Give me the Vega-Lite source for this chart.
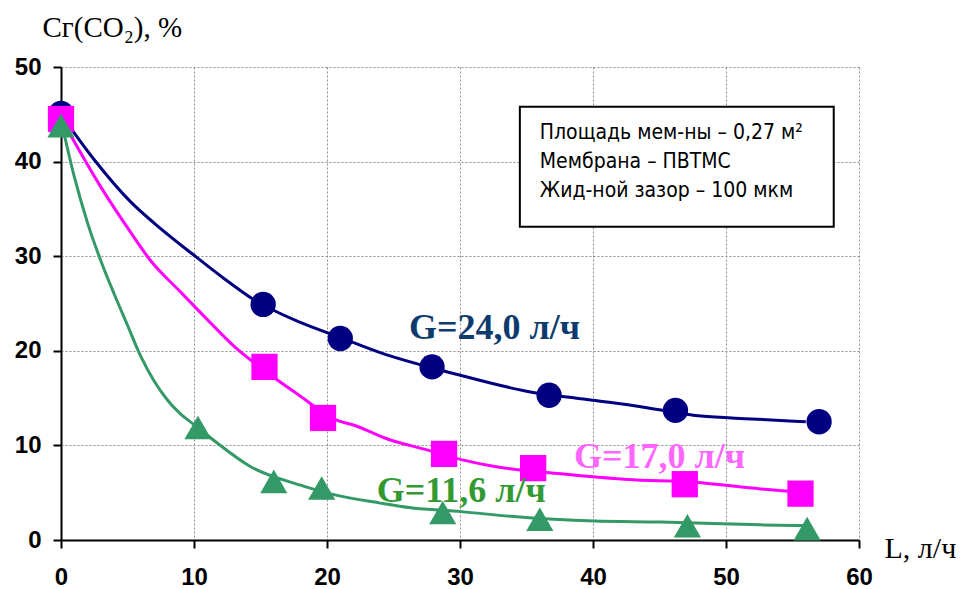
{
  "$schema": "https://vega.github.io/schema/vega-lite/v6.json",
  "width": 798,
  "height": 473,
  "autosize": {"type": "none"},
  "padding": {"left": 61, "top": 67, "right": 102, "bottom": 49},
  "background": "white",
  "config": {
    "view": {"stroke": null},
    "axis": {
      "grid": true, "labelFlush": false,
      "domainColor": "black", "domainWidth": 2,
      "tickColor": "black", "tickWidth": 2, "tickSize": 8,
      "gridColor": "#8c8c8c", "gridDash": [2, 2], "gridWidth": 1,
      "labelFont": "Liberation Sans", "labelFontWeight": "bold", "labelFontSize": 24, "labelColor": "black",
      "titleFont": "Liberation Serif", "titleFontWeight": "normal", "titleFontSize": 28, "titleColor": "black"
    }
  },
  "datasets": {
    "points": [
      {"series": "G=24,0", "L": 0, "C": 45.1},
      {"series": "G=24,0", "L": 15.2, "C": 24.9},
      {"series": "G=24,0", "L": 21.0, "C": 21.3},
      {"series": "G=24,0", "L": 27.9, "C": 18.3},
      {"series": "G=24,0", "L": 36.7, "C": 15.3},
      {"series": "G=24,0", "L": 46.2, "C": 13.7},
      {"series": "G=24,0", "L": 57.0, "C": 12.5},
      {"series": "G=17,0", "L": 0, "C": 44.5},
      {"series": "G=17,0", "L": 15.3, "C": 18.3},
      {"series": "G=17,0", "L": 19.7, "C": 12.9},
      {"series": "G=17,0", "L": 28.8, "C": 9.1},
      {"series": "G=17,0", "L": 35.5, "C": 7.6},
      {"series": "G=17,0", "L": 46.9, "C": 5.9},
      {"series": "G=17,0", "L": 55.6, "C": 4.9},
      {"series": "G=11,6", "L": 0, "C": 43.8},
      {"series": "G=11,6", "L": 10.3, "C": 11.9},
      {"series": "G=11,6", "L": 16.0, "C": 6.2},
      {"series": "G=11,6", "L": 19.6, "C": 5.5},
      {"series": "G=11,6", "L": 28.7, "C": 2.9},
      {"series": "G=11,6", "L": 36.0, "C": 2.2},
      {"series": "G=11,6", "L": 47.1, "C": 1.5},
      {"series": "G=11,6", "L": 56.1, "C": 1.2}
    ],
    "curves": [
      {"series": "G=24,0", "L": 0, "C": 45.0},
      {"series": "G=24,0", "L": 2.5, "C": 40.2},
      {"series": "G=24,0", "L": 5.2, "C": 35.8},
      {"series": "G=24,0", "L": 7.0, "C": 33.5},
      {"series": "G=24,0", "L": 10.0, "C": 30.1},
      {"series": "G=24,0", "L": 12.2, "C": 27.7},
      {"series": "G=24,0", "L": 14.5, "C": 25.4},
      {"series": "G=24,0", "L": 18.0, "C": 23.0},
      {"series": "G=24,0", "L": 21.0, "C": 21.4},
      {"series": "G=24,0", "L": 24.0, "C": 19.8},
      {"series": "G=24,0", "L": 29.8, "C": 17.5},
      {"series": "G=24,0", "L": 35.5, "C": 15.6},
      {"series": "G=24,0", "L": 39.3, "C": 14.9},
      {"series": "G=24,0", "L": 43.1, "C": 14.2},
      {"series": "G=24,0", "L": 48.1, "C": 13.1},
      {"series": "G=24,0", "L": 51.9, "C": 12.8},
      {"series": "G=24,0", "L": 56.0, "C": 12.5},
      {"series": "G=17,0", "L": 0, "C": 44.6},
      {"series": "G=17,0", "L": 3.0, "C": 37.3},
      {"series": "G=17,0", "L": 5.1, "C": 32.8},
      {"series": "G=17,0", "L": 6.7, "C": 29.6},
      {"series": "G=17,0", "L": 9.0, "C": 26.2},
      {"series": "G=17,0", "L": 11.0, "C": 23.3},
      {"series": "G=17,0", "L": 13.0, "C": 20.5},
      {"series": "G=17,0", "L": 15.5, "C": 17.7},
      {"series": "G=17,0", "L": 18.0, "C": 15.2},
      {"series": "G=17,0", "L": 20.5, "C": 12.8},
      {"series": "G=17,0", "L": 22.3, "C": 12.0},
      {"series": "G=17,0", "L": 24.5, "C": 10.7},
      {"series": "G=17,0", "L": 27.6, "C": 9.5},
      {"series": "G=17,0", "L": 30.1, "C": 8.5},
      {"series": "G=17,0", "L": 32.5, "C": 7.8},
      {"series": "G=17,0", "L": 37.6, "C": 7.0},
      {"series": "G=17,0", "L": 42.6, "C": 6.4},
      {"series": "G=17,0", "L": 47.6, "C": 6.1},
      {"series": "G=17,0", "L": 52.6, "C": 5.4},
      {"series": "G=17,0", "L": 55.1, "C": 5.1},
      {"series": "G=11,6", "L": 0, "C": 44.4},
      {"series": "G=11,6", "L": 1, "C": 38.4},
      {"series": "G=11,6", "L": 2, "C": 33.5},
      {"series": "G=11,6", "L": 3, "C": 29.5},
      {"series": "G=11,6", "L": 4, "C": 26.0},
      {"series": "G=11,6", "L": 5, "C": 22.7},
      {"series": "G=11,6", "L": 6, "C": 19.4},
      {"series": "G=11,6", "L": 7, "C": 16.8},
      {"series": "G=11,6", "L": 8, "C": 14.8},
      {"series": "G=11,6", "L": 9, "C": 13.3},
      {"series": "G=11,6", "L": 10, "C": 12.2},
      {"series": "G=11,6", "L": 11.7, "C": 10.3},
      {"series": "G=11,6", "L": 14.2, "C": 7.8},
      {"series": "G=11,6", "L": 18.0, "C": 5.8},
      {"series": "G=11,6", "L": 20.5, "C": 4.8},
      {"series": "G=11,6", "L": 24.0, "C": 3.9},
      {"series": "G=11,6", "L": 26.3, "C": 3.4},
      {"series": "G=11,6", "L": 30.1, "C": 3.0},
      {"series": "G=11,6", "L": 33.8, "C": 2.5},
      {"series": "G=11,6", "L": 40.1, "C": 2.0},
      {"series": "G=11,6", "L": 45.1, "C": 1.9},
      {"series": "G=11,6", "L": 52.6, "C": 1.6},
      {"series": "G=11,6", "L": 56.4, "C": 1.5}
    ]
  },
  "layer": [
    {
      "data": {"values": [{}]},
      "mark": {"type": "rect", "fill": "white", "stroke": "black", "strokeWidth": 2},
      "encoding": {
        "x": {"datum": 34.5, "type": "quantitative", "scale": {"domain": [0, 60], "nice": false},
          "axis": {"values": [0, 10, 20, 30, 40, 50, 60], "labelPadding": 17, "labelBaseline": "top",
            "title": "L, л/ч", "titleAnchor": null, "titleAlign": "left", "titleBaseline": "middle", "titleX": 823, "titleY": 8, "titleFontSize": 30}},
        "x2": {"datum": 58.1},
        "y": {"datum": 45.8, "type": "quantitative", "scale": {"domain": [0, 50], "nice": false},
          "axis": {"values": [0, 10, 20, 30, 40, 50], "labelPadding": 12,
            "title": "Cг(CO₂), %", "titleAngle": 0, "titleAlign": "left", "titleBaseline": "alphabetic", "titleX": -19, "titleY": -31, "titleFontSize": 29}},
        "y2": {"datum": 33.1}
      }
    },
    {
      "data": {"name": "curves"},
      "mark": {"type": "line", "strokeWidth": 3, "interpolate": "monotone"},
      "encoding": {
        "x": {"field": "L", "type": "quantitative"},
        "y": {"field": "C", "type": "quantitative"},
        "color": {"field": "series", "type": "nominal", "legend": null,
          "scale": {"domain": ["G=24,0", "G=17,0", "G=11,6"], "range": ["#000080", "#FF00FF", "#339966"]}}
      }
    },
    {
      "data": {"name": "points"},
      "mark": {"type": "point", "filled": true, "opacity": 1, "strokeWidth": 0},
      "encoding": {
        "x": {"field": "L", "type": "quantitative"},
        "y": {"field": "C", "type": "quantitative"},
        "color": {"field": "series", "type": "nominal", "legend": null},
        "shape": {"field": "series", "type": "nominal", "legend": null,
          "scale": {"domain": ["G=24,0", "G=17,0", "G=11,6"], "range": ["circle", "square", "triangle-up"]}},
        "size": {"field": "series", "type": "nominal", "legend": null,
          "scale": {"domain": ["G=24,0", "G=17,0", "G=11,6"], "range": [640, 740, 820]}}
      }
    },
    {
      "data": {"values": [{}]},
      "mark": {"type": "text", "text": "G=24,0 л/ч", "font": "Liberation Serif", "fontWeight": "bold", "fontSize": 36, "color": "#0D3B6E", "align": "center", "baseline": "middle"},
      "encoding": {"x": {"datum": 32.6}, "y": {"datum": 22.4}}
    },
    {
      "data": {"values": [{}]},
      "mark": {"type": "text", "text": "G=17,0 л/ч", "font": "Liberation Serif", "fontWeight": "bold", "fontSize": 36, "color": "#FF66FF", "align": "center", "baseline": "middle"},
      "encoding": {"x": {"datum": 45.0}, "y": {"datum": 8.8}}
    },
    {
      "data": {"values": [{}]},
      "mark": {"type": "text", "text": "G=11,6 л/ч", "font": "Liberation Serif", "fontWeight": "bold", "fontSize": 36, "color": "#339933", "align": "center", "baseline": "middle"},
      "encoding": {"x": {"datum": 30.1}, "y": {"datum": 5.2}}
    },
    {
      "data": {"values": [{}]},
      "mark": {"type": "text", "text": ["Площадь мем-ны – 0,27 м²", "Мембрана – ПВТМС", "Жид-ной зазор – 100 мкм"], "font": "DejaVu Sans Condensed", "fontSize": 21, "lineHeight": 29, "color": "black", "align": "left", "baseline": "middle"},
      "encoding": {"x": {"datum": 36.0}, "y": {"datum": 43.0}}
    }
  ]
}
